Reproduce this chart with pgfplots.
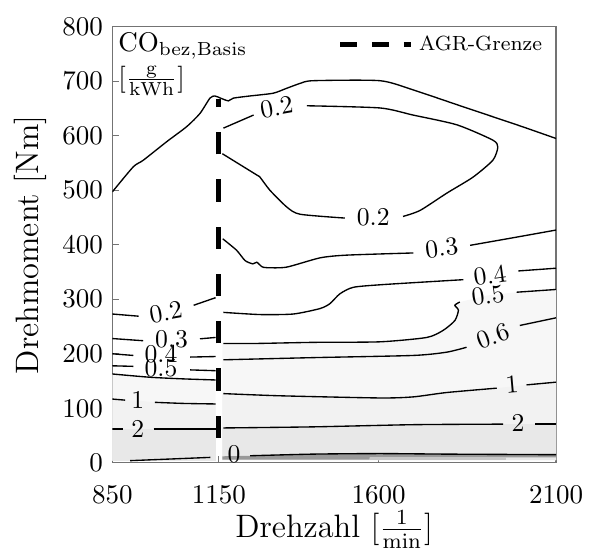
\documentclass[border=0pt]{standalone}
\usepackage{pgfplots}
\pgfplotsset{compat=1.18}
\tikzset{lab/.style={font=\fontsize{9.5}{11}\selectfont, inner sep=0pt}}
\pgfplotsset{cl/.style={black, line width=0.5pt, forget plot, smooth, tension=0.4},
  fl/.style={draw=none, forget plot}}
\begin{document}
\begin{tikzpicture}
\begin{axis}[
  scale only axis, width=164.3pt, height=161.5pt,
  xmin=850, xmax=2100, ymin=0, ymax=800,
  xtick={850,1150,1600,2100}, ytick={0,100,...,800},
  /pgf/number format/1000 sep={},
  tick align=inside, tick pos=left, major tick length=2.6pt,
  axis line style={black!55}, every tick/.style={black!55},
  tick label style={font=\fontsize{10}{12}\selectfont},
  xticklabel style={yshift=-5pt},
  label style={font=\fontsize{12}{14}\selectfont},
  xlabel style={yshift=4pt},
  ylabel style={xshift=0pt, yshift=-1pt},
  xlabel={Drehzahl $[\frac{1}{\mathrm{min}}]$},
  ylabel={Drehmoment [Nm]},
  legend style={draw=none, fill=none, at={(1,1)}, anchor=north east, xshift=-1pt, yshift=1pt,
    font=\fontsize{7.6}{9}\selectfont, inner sep=2pt},
]
% ---------- fills, right region ----------
\addplot[fl, fill=black!3] coordinates {(1160,219) (1257,219) (1416,221) (1604,222) (1736,230) (1782,243) (1815,261) (1825,280) (1815,289) (1829,295) (1906,307) (1989,313) (2100,318) (2100,5) (1160,5)} -- cycle;
\addplot[fl, fill=black!5] coordinates {(1160,127) (1322,123) (1604,119) (1698,121) (1792,129) (1933,137) (1976,140) (2017,143) (2100,148) (2100,5) (1160,5)} -- cycle;
\addplot[fl, fill=black!9] coordinates {(1160,64) (1416,66) (1698,70) (1951,71) (2100,71) (2100,5) (1160,5)} -- cycle;
\addplot[fl, fill=black!40] coordinates {(1160,12) (1238,13) (1416,16) (1604,17) (1792,16) (2100,15) (2100,10) (1575,10) (1575,6) (1160,6)} -- cycle;
\addplot[fl, fill=black!22] coordinates {(1575,10) (1960,10) (1960,6) (1575,6)} -- cycle;
% ---------- fills, left region ----------
\addplot[fl, fill=black!3] coordinates {(850,163) (956,157) (1050,154) (1141,152) (1141,4) (850,4)} -- cycle;
\addplot[fl, fill=black!5] coordinates {(850,117) (886,115) (922,114) (970,111) (1050,109) (1141,108) (1141,4) (850,4)} -- cycle;
\addplot[fl, fill=black!9] coordinates {(850,62) (1141,62) (1141,4) (850,4)} -- cycle;
% ---------- contour lines, right region ----------
\addplot[cl] coordinates {(850,497) (909,543) (937,555) (1003,589) (1060,617) (1097,641) (1125,669) (1139,673) (1155,669) (1177,664) (1191,669) (1238,673) (1303,678) (1341,687) (1379,696) (1416,701) (1604,701) (1698,684) (1839,653) (1999,618) (2100,595)};
\addplot[cl] coordinates {(1163,614) (1248,638)};
\addplot[cl] coordinates {(1398,655) (1604,651) (1697,638) (1821,620) (1922,592) (1936,579) (1922,555) (1866,524) (1793,495) (1717,463) (1669,452)};
\addplot[cl] coordinates {(1505,449) (1379,456) (1342,469) (1294,500) (1266,524) (1257,528) (1160,567)};
\addplot[cl] coordinates {(1161,411) (1200,390) (1224,371) (1246,365) (1257,368) (1271,360) (1285,358) (1341,359) (1435,376) (1510,381) (1698,385)};
\addplot[cl] coordinates {(1858,399) (1980,413) (2100,427)};
\addplot[cl] coordinates {(1163,276) (1266,272) (1360,273) (1435,283) (1463,292) (1491,310) (1529,322) (1613,327) (1839,336)};
\addplot[cl] coordinates {(1994,352) (2100,357)};
\addplot[cl] coordinates {(1163,219) (1257,219) (1416,221) (1604,222) (1736,230) (1782,243) (1815,261) (1825,280) (1815,289) (1829,295)};
\addplot[cl] coordinates {(1989,313) (2100,318)};
\addplot[cl] coordinates {(1163,189) (1416,193) (1698,197) (1792,203) (1848,212)};
\addplot[cl] coordinates {(1998,252) (2100,266)};
\addplot[cl] coordinates {(1163,127) (1322,123) (1604,119) (1698,121) (1792,129) (1933,137)};
\addplot[cl] coordinates {(2017,143) (2100,148)};
\addplot[cl] coordinates {(1163,64) (1416,66) (1698,70) (1951,71)};
\addplot[cl] coordinates {(2041,71) (2100,71)};
\addplot[cl] coordinates {(1238,13) (1416,16) (1604,17) (1792,16) (2100,15)};
% ---------- contour lines, left region ----------
\addplot[cl] coordinates {(850,273) (924,269)};
\addplot[cl] coordinates {(1079,289) (1141,303)};
\addplot[cl] coordinates {(850,228) (937,224)};
\addplot[cl] coordinates {(1097,227.5) (1141,230)};
\addplot[cl] coordinates {(850,200) (909,197)};
\addplot[cl] coordinates {(1069,194) (1141,195)};
\addplot[cl] coordinates {(850,178) (909,177)};
\addplot[cl] coordinates {(1069,170.5) (1141,169)};
\addplot[cl] coordinates {(850,163) (956,157) (1050,154) (1141,152)};
\addplot[cl] coordinates {(850,117) (886,115)};
\addplot[cl] coordinates {(970,111) (1050,109) (1141,108)};
\addplot[cl] coordinates {(850,62) (880,62)};
\addplot[cl] coordinates {(966,62) (1141,62)};
\addplot[cl] coordinates {(900,4) (1126,10)};
% ---------- contour labels ----------
\node[lab, rotate=10] at (axis cs:1313,652) {0.2};
\node[lab] at (axis cs:1585,451) {0.2};
\node[lab, rotate=7] at (axis cs:1778,394) {0.3};
\node[lab, rotate=8] at (axis cs:1914,344) {0.4};
\node[lab, rotate=8] at (axis cs:1908,307) {0.5};
\node[lab, rotate=20] at (axis cs:1923,232) {0.6};
\node[lab, rotate=5] at (axis cs:1976,143) {1};
\node[lab] at (axis cs:1993,74) {2};
\node[lab] at (axis cs:1193,16.5) {0};
\node[lab, rotate=10] at (axis cs:1001,276) {0.2};
\node[lab] at (axis cs:1017,226) {0.3};
\node[lab] at (axis cs:987,200) {0.4};
\node[lab] at (axis cs:987,174) {0.5};
\node[lab] at (axis cs:922,116) {1};
\node[lab] at (axis cs:922,63) {2};
% ---------- annotation ----------
\node[anchor=north west, inner sep=0pt, font=\fontsize{10}{12}\selectfont] at ([xshift=2pt,yshift=-2.3pt]rel axis cs:0,1) {$\mathrm{CO}_{\mathrm{bez,Basis}}$};
\node[anchor=north west, inner sep=0pt, font=\fontsize{10}{12}\selectfont] at ([xshift=2pt,yshift=-14.5pt]rel axis cs:0,1) {$[\frac{\mathrm{g}}{\mathrm{kWh}}]$};
% ---------- AGR-Grenze ----------
\addplot[black, line width=1.8pt, dash pattern=on 8.3pt off 9.2pt, dash phase=8.3pt,
  legend image code/.code={\draw[black, line width=1.85pt, dash pattern=on 6.2pt off 5.6pt] (0pt,0pt) -- (29.8pt,0pt);}]
  coordinates {(1150,0) (1150,668)};
\addlegendentry{AGR-Grenze}
\end{axis}
\path ([xshift=-41.6pt,yshift=9.9pt]current axis.north west) rectangle ([xshift=13.3pt,yshift=-32.2pt]current axis.south east);
\end{tikzpicture}
\end{document}
